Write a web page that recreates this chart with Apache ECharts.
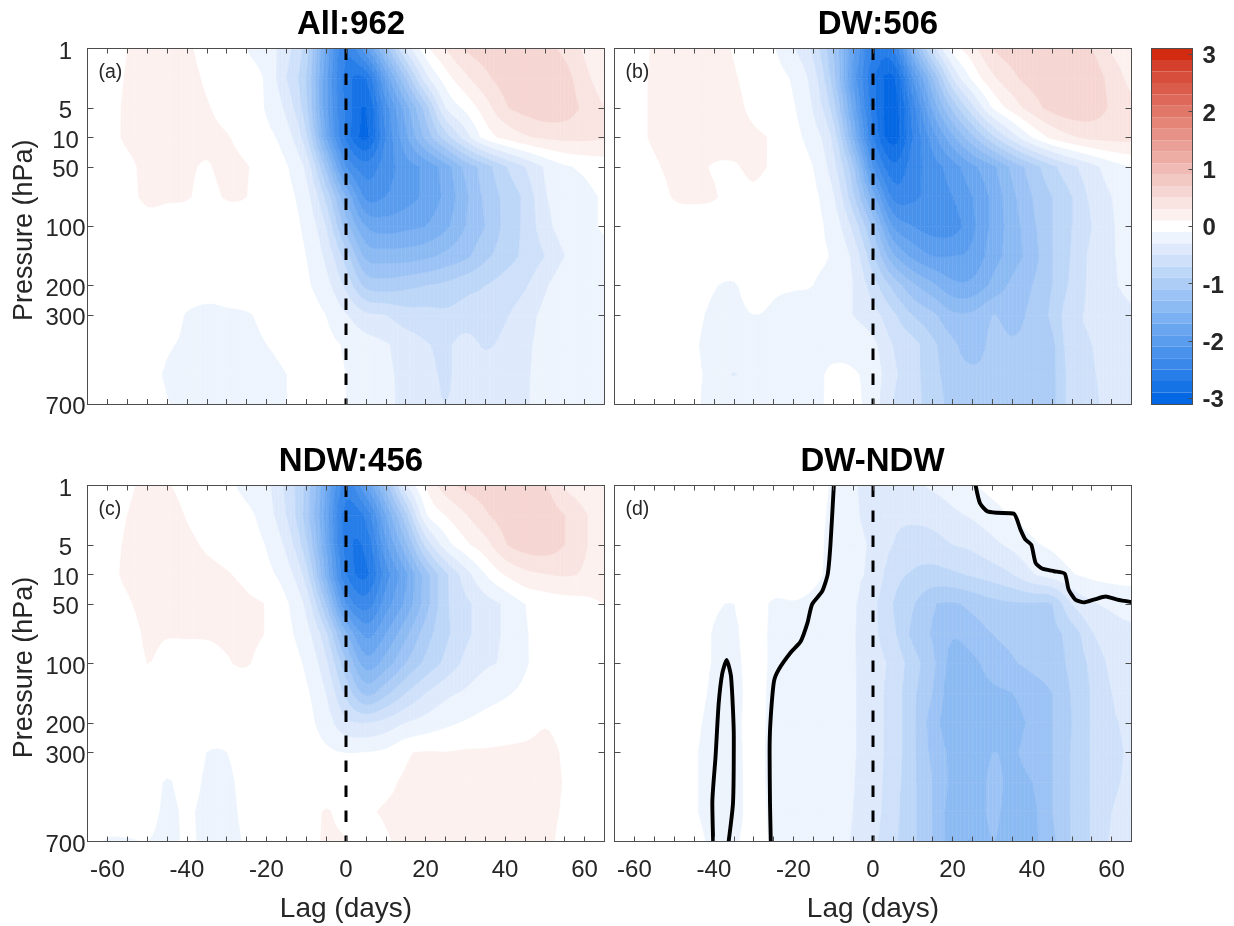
<!DOCTYPE html>
<html>
<head>
<meta charset="utf-8">
<style>html,body{margin:0;padding:0;background:#fff}#c{width:1234px;height:926px}</style>
<script src="https://cdn.jsdelivr.net/npm/echarts@6/dist/echarts.min.js"></script>
</head>
<body>
<div id="c"></div>
<script>
// Lag axis (days) and pressure levels (evenly spaced rows on the y axis)
const lags = [-65,-60,-55,-50,-45,-40,-35,-30,-25,-20,-15,-10,-5,0,5,10,15,20,25,30,35,40,45,50,55,60,65];
const levelLabels = {0:'1',2:'5',3:'10',4:'50',6:'100',8:'200',9:'300',12:'700'};
const levelTicks = [0,2,3,4,6,8,9,12];
const panelTitles = ['All:962','DW:506','NDW:456','DW-NDW'];
const panelTags = ['(a)','(b)','(c)','(d)'];
const colorbarTicks = [-3,-2,-1,0,1,2,3];

// Filled-contour edges and colours
const bandEdges = [0.1,0.3,0.5,0.7,0.9,1.1,1.3,1.5,1.7,1.9,2.1,2.3,2.5,2.7,2.9,3.1];
const negColors = ['#edf4fd','#deeafc','#cfe1fa','#bdd7f8','#adcdf6','#9cc3f5','#8cbaf3','#7bb0f2','#6aa6f0','#5a9cee','#4992ec','#3988ea','#287ee9','#1673e6','#0467e3'];
const posColors = ['#fcf1ef','#f9e4e1','#f6d6d2','#f3c9c3','#f0bbb4','#edada5','#eaa096','#e79287','#e48578','#e17769','#de695a','#db5c4b','#d84e3c','#d5402d','#d32a12'];

// Values per pressure level (rows) and lag (columns)
const allRows = [
[0,.05,.1,.15,.15,.12,.05,.02,-.1,-.2,-.42,-.8,-1.75,-2.45,-1.95,-1.2,-.45,.03,.3,.52,.6,.6,.6,.55,.45,.27,.2],
[0,.04,.11,.15,.15,.14,.08,.03,-.03,-.13,-.5,-.9,-1.85,-2.6,-2.7,-1.85,-1.1,-.38,0,.25,.45,.58,.62,.62,.58,.35,.22],
[0,.05,.12,.15,.15,.14,.11,.05,.02,-.12,-.35,-.85,-1.85,-2.55,-2.9,-2.2,-1.6,-1.0,-.3,-.05,.2,.47,.58,.65,.62,.45,.3],
[0,.05,.12,.14,.16,.15,.13,.11,.03,-.05,-.2,-.65,-1.7,-2.55,-2.95,-2.3,-1.75,-1.25,-.8,-.4,-.02,.15,.27,.33,.35,.35,.32],
[0,.03,.07,.13,.15,.12,.09,.14,.11,.01,-.08,-.35,-1.15,-2.1,-2.4,-2.2,-2.0,-1.85,-1.6,-1.25,-1.0,-.72,-.5,-.28,-.13,-.07,-.02],
[0,.01,.05,.13,.12,.11,.06,.11,.1,0,-.05,-.22,-.75,-1.5,-2.15,-2.1,-2.0,-1.85,-1.65,-1.35,-1.05,-.85,-.65,-.32,-.22,-.15,-.08],
[0,0,.02,.04,.03,.03,.03,.03,.02,0,-.03,-.15,-.5,-1.2,-1.7,-1.8,-1.75,-1.7,-1.55,-1.3,-1.1,-.85,-.65,-.38,-.2,-.13,-.09],
[0,0,0,.02,.02,.02,.02,.02,.01,0,-.02,-.1,-.35,-.8,-1.35,-1.4,-1.4,-1.35,-1.25,-1.15,-.95,-.8,-.65,-.5,-.3,-.16,-.12],
[0,0,0,0,0,-.02,-.05,-.04,-.02,-.01,-.02,-.07,-.23,-.55,-.95,-1.0,-.95,-.9,-.85,-.75,-.7,-.6,-.52,-.33,-.16,-.13,-.11],
[0,0,0,0,-.02,-.11,-.13,-.12,-.11,-.07,-.03,-.02,-.1,-.28,-.45,-.5,-.6,-.62,-.65,-.62,-.6,-.52,-.4,-.24,-.15,-.13,-.11],
[0,0,0,0,-.08,-.12,-.15,-.14,-.13,-.1,-.07,-.03,-.05,-.12,-.2,-.28,-.38,-.48,-.53,-.42,-.52,-.45,-.35,-.22,-.17,-.13,-.11],
[0,0,0,-.03,-.12,-.16,-.16,-.15,-.14,-.13,-.1,-.07,-.05,-.1,-.17,-.26,-.35,-.43,-.52,-.42,-.4,-.38,-.33,-.2,-.15,-.13,-.12],
[0,0,0,-.02,-.09,-.15,-.16,-.16,-.15,-.14,-.1,-.06,-.03,-.1,-.18,-.27,-.33,-.42,-.5,-.42,-.38,-.36,-.32,-.2,-.15,-.13,-.12]
];
const dwRows = [
[0,.05,.11,.14,.15,.14,.09,.03,-.08,-.28,-.55,-1.1,-1.85,-2.5,-2.5,-1.5,-.6,-.02,.22,.5,.6,.6,.6,.57,.5,.27,.2],
[0,.05,.12,.14,.15,.15,.11,.05,-.03,-.13,-.4,-1.0,-1.95,-2.65,-2.95,-2.1,-1.3,-.5,-.05,.25,.45,.58,.62,.62,.62,.42,.25],
[0,.05,.12,.14,.15,.15,.13,.07,.02,-.08,-.32,-.8,-1.75,-2.6,-3,-2.4,-1.65,-1.05,-.55,-.09,.18,.4,.57,.65,.62,.47,.35],
[0,.05,.12,.14,.15,.15,.14,.12,.08,-.04,-.2,-.55,-1.5,-2.5,-3,-2.5,-2,-1.55,-1.15,-.75,-.4,-.09,.14,.27,.35,.37,.37],
[0,.02,.08,.13,.13,.09,.09,.12,.08,0,-.1,-.42,-1.05,-2.1,-2.65,-2.4,-2.2,-2.0,-1.75,-1.55,-1.25,-1.0,-.75,-.55,-.37,-.2,-.1],
[0,0,.03,.11,.12,.11,.05,.08,.03,0,-.06,-.27,-.85,-1.6,-2.35,-2.35,-2.2,-2.1,-1.9,-1.65,-1.35,-1.1,-.9,-.7,-.45,-.3,-.15],
[0,0,0,.03,.04,.03,.02,.03,.01,0,-.05,-.18,-.55,-1.15,-1.9,-2.1,-2.2,-2.2,-1.95,-1.65,-1.4,-1.15,-.9,-.7,-.5,-.32,-.22],
[0,0,0,0,0,-.01,-.03,-.01,0,-.03,-.08,-.12,-.35,-.85,-1.45,-1.75,-1.9,-1.9,-1.85,-1.6,-1.4,-1.2,-.9,-.68,-.45,-.32,-.24],
[0,0,0,0,-.02,-.09,-.11,-.03,-.08,-.09,-.1,-.15,-.3,-.6,-.95,-1.25,-1.45,-1.65,-1.65,-1.45,-1.25,-1.1,-.9,-.65,-.45,-.33,-.25],
[0,0,0,-.02,-.06,-.13,-.14,-.1,-.12,-.14,-.14,-.18,-.3,-.42,-.65,-.9,-1.05,-1.25,-1.25,-1.1,-1.15,-1.05,-.85,-.55,-.48,-.4,-.33],
[0,0,0,0,-.08,-.15,-.17,-.16,-.16,-.15,-.15,-.15,-.17,-.25,-.5,-.62,-.85,-1.05,-1.2,-1.05,-1.08,-1.05,-.95,-.55,-.5,-.42,-.36],
[0,0,0,0,-.07,-.15,-.31,-.17,-.16,-.16,-.14,-.07,-.08,-.18,-.45,-.62,-.82,-1.0,-1.05,-1.05,-1.03,-1.05,-.95,-.6,-.52,-.42,-.37],
[0,0,0,0,-.07,-.15,-.16,-.16,-.15,-.13,-.13,-.07,-.05,-.2,-.5,-.62,-.8,-.95,-1.0,-1.0,-1.0,-1.0,-.95,-.6,-.55,-.42,-.38]
];
const ndwRows = [
[0,0,.07,.13,.11,.05,.02,-.05,-.16,-.25,-.55,-.95,-1.7,-2.4,-1.9,-1.2,-.35,.1,.4,.55,.6,.6,.58,.52,.27,.2,.17],
[0,.02,.1,.15,.16,.09,.04,0,-.05,-.2,-.5,-1.0,-1.8,-2.6,-2.45,-1.7,-.95,-.13,.1,.28,.47,.58,.62,.62,.5,.32,.22],
[0,.04,.12,.16,.16,.13,.08,.04,-.02,-.11,-.35,-.85,-1.7,-2.6,-2.65,-1.95,-1.35,-.65,-.2,.05,.22,.48,.6,.62,.5,.32,.22],
[0,.05,.13,.16,.16,.16,.14,.11,.06,-.05,-.2,-.6,-1.55,-2.5,-2.75,-2.2,-1.75,-1.2,-.75,-.4,-.1,.11,.24,.29,.32,.28,.22],
[0,.02,.08,.15,.16,.16,.15,.15,.13,.09,-.07,-.35,-1.1,-2.1,-2.4,-2.0,-1.65,-1.2,-.75,-.55,-.4,-.27,-.1,-.04,0,.03,.1],
[0,0,.03,.12,.11,.11,.11,.12,.13,.09,-.05,-.22,-.65,-1.45,-1.95,-1.7,-1.35,-1.0,-.75,-.55,-.4,-.27,-.12,-.02,0,0,0],
[0,0,.01,.1,.05,.05,.06,.09,.11,.03,-.03,-.13,-.45,-1.05,-1.6,-1.4,-1.1,-.85,-.65,-.45,-.33,-.27,-.12,-.03,0,0,0],
[0,0,0,.02,.01,.01,.01,.02,.02,0,-.01,-.07,-.3,-.75,-1.15,-.95,-.7,-.5,-.35,-.27,-.18,-.12,-.06,-.01,0,0,0],
[0,0,0,0,0,0,-.01,-.03,-.01,0,0,-.04,-.2,-.45,-.5,-.42,-.3,-.22,-.14,-.08,-.03,0,.03,.09,.05,0,0],
[0,0,0,0,-.03,0,-.1,-.1,-.02,0,0,-.01,-.06,-.1,-.09,-.05,.08,.11,.105,.12,.12,.13,.14,.14,.08,0,0],
[0,0,0,-.01,-.11,-.04,-.12,-.13,-.04,0,0,0,.02,0,0,.06,.12,.12,.12,.13,.13,.13,.14,.14,.09,0,0],
[0,-.02,-.02,-.03,-.13,-.08,-.14,-.15,-.05,0,0,.01,.11,.03,.07,.12,.13,.13,.13,.13,.13,.13,.14,.14,.08,0,0],
[-.05,-.11,-.11,-.1,-.14,-.08,-.13,-.15,-.08,-.02,0,.03,.12,.11,-.02,.08,.13,.13,.13,.13,.13,.13,.14,.14,.05,0,0]
];
const diffRows = [
[0,0,0,0,0,0,0,0,0,0,-.05,-.12,-.28,-.33,-.35,-.33,-.27,-.2,-.12,-.03,.02,.03,.03,.03,.03,.03,.03],
[0,0,0,0,0,0,0,0,0,0,-.06,-.13,-.27,-.35,-.45,-.45,-.42,-.34,-.27,-.18,-.08,-.02,.01,.02,.02,.02,.02],
[0,0,0,0,0,0,0,0,0,0,-.06,-.14,-.25,-.33,-.5,-.6,-.58,-.5,-.45,-.35,-.25,-.13,-.07,-.02,0,0,0],
[0,0,0,0,0,0,0,0,0,-.02,-.07,-.14,-.26,-.35,-.62,-.72,-.76,-.73,-.67,-.6,-.5,-.32,-.2,-.11,-.05,-.02,0],
[0,0,0,0,0,-.08,-.1,-.03,-.12,-.11,-.13,-.16,-.27,-.45,-.7,-.88,-1.08,-1.12,-1.05,-.97,-.93,-.92,-.9,-.5,-.33,-.27,-.25],
[0,0,0,0,-.01,-.11,-.12,-.03,-.13,-.14,-.15,-.17,-.28,-.45,-.65,-.95,-1.12,-1.28,-1.2,-1.1,-1.05,-1.0,-.95,-.82,-.52,-.38,-.33],
[0,0,0,0,-.02,-.11,-.14,-.03,-.13,-.15,-.16,-.17,-.28,-.42,-.55,-.8,-1.05,-1.38,-1.35,-1.2,-1.12,-1.05,-.98,-.85,-.65,-.45,-.33],
[0,0,0,0,-.03,-.13,-.15,-.04,-.14,-.16,-.17,-.18,-.28,-.42,-.58,-.85,-1.1,-1.42,-1.42,-1.35,-1.3,-1.2,-1.1,-.88,-.68,-.5,-.37],
[0,0,0,0,-.06,-.15,-.14,-.04,-.14,-.16,-.17,-.18,-.28,-.42,-.58,-.85,-1.2,-1.42,-1.4,-1.4,-1.38,-1.25,-1.1,-.9,-.68,-.53,-.47],
[0,0,0,0,-.08,-.17,-.15,-.04,-.15,-.16,-.17,-.19,-.28,-.42,-.58,-.85,-1.15,-1.35,-1.45,-1.3,-1.33,-1.2,-1.1,-.88,-.68,-.55,-.48],
[0,0,0,0,-.08,-.17,-.15,-.05,-.14,-.16,-.17,-.19,-.29,-.42,-.6,-.85,-1.1,-1.35,-1.45,-1.25,-1.35,-1.3,-1.1,-.88,-.68,-.55,-.45],
[0,0,0,0,-.08,-.17,-.15,-.05,-.13,-.16,-.17,-.2,-.3,-.42,-.62,-.85,-1.1,-1.4,-1.45,-1.25,-1.4,-1.35,-1.1,-.88,-.68,-.5,-.42],
[0,0,0,0,-.03,-.14,-.12,-.05,-.12,-.15,-.17,-.2,-.32,-.45,-.65,-.85,-1.1,-1.4,-1.5,-1.3,-1.4,-1.35,-1.15,-.88,-.68,-.47,-.38]
];
const panelRows = [allRows, dwRows, ndwRows, diffRows];

// Black zero-difference lines in panel (d): [lag, level row]
const diffLineLeft = [[-9.85,0],[-10.7,2],[-11.4,3],[-12.8,3.57],[-15.3,4],[-16.5,4.64],[-18.2,5.26],[-20.7,5.63],[-23.7,6.2],[-24.9,6.6],[-25.8,8],[-26,9],[-25.9,10.7],[-25.7,12]];
const diffLineLoop = [[-40.2,12],[-40.4,10.7],[-39.6,9.16],[-38.8,7.34],[-37.9,6.33],[-36.8,5.88],[-35.7,6.44],[-35,8.47],[-35.2,10.7],[-36.3,12]];
const diffLineRight = [[25.8,0],[26.9,.6],[28.7,.87],[31.2,.92],[35.4,.95],[37.1,1.49],[38.3,1.82],[39.8,2],[40.9,2.61],[42.5,2.8],[45.5,2.89],[48.2,2.97],[49.2,3.51],[50.9,3.85],[53,3.94],[55.5,3.85],[58.5,3.74],[61.4,3.85],[65,3.93]];
const zeroLagLine = [[0,0],[0,12]];

const FONT = '"Liberation Sans", Arial, sans-serif';
const TXT = '#262626';
const FRAME = '#4d4d4d';
const grids = [
  {left:87.5, top:48.5, width:517, height:355.5, outerBoundsMode:'none'},
  {left:614.5,top:48.5, width:517, height:355.5, outerBoundsMode:'none'},
  {left:87.5, top:485.5,width:517, height:356, outerBoundsMode:'none'},
  {left:614.5,top:485.5,width:517, height:356, outerBoundsMode:'none'},
  {left:1151.5,top:48.5,width:41,  height:355.5, outerBoundsMode:'none'}
];
const titleNudge = [0,0,0,-5.5];

// Band clipping of a grid cell against contour levels
function clipPoly(pts, level, keepAbove){
  const out=[];
  for(let i=0;i<pts.length;i++){
    const a=pts[i], b=pts[(i+1)%pts.length];
    const ina = keepAbove ? a[2]>=level : a[2]<=level;
    const inb = keepAbove ? b[2]>=level : b[2]<=level;
    if(ina) out.push(a);
    if(ina!==inb){
      const t=(level-a[2])/(b[2]-a[2]);
      out.push([a[0]+t*(b[0]-a[0]),a[1]+t*(b[1]-a[1]),level]);
    }
  }
  return out;
}
const SUB = 5; // drawing subdivisions of one cell along the lag direction (smooth contour edges)
function smoothAlongLag(row, c, t){
  const p0=row[Math.max(c-1,0)], p1=row[c], p2=row[c+1], p3=row[Math.min(c+2,row.length-1)];
  const v=0.5*((2*p1)+(-p0+p2)*t+(2*p0-5*p1+4*p2-p3)*t*t+(-p0+3*p1-3*p2+p3)*t*t*t);
  return Math.max(-3.09,Math.min(3.09,v));
}
function makeCellRender(rows){
  return function(params, api){
    const x0=api.value(0), y0=api.value(1), x1=api.value(2), y1=api.value(3);
    const c=lags.indexOf(x0);
    const children=[];
    for(let s=0;s<SUB;s++){
      const t0=s/SUB, t1=(s+1)/SUB;
      const xa=x0+(x1-x0)*t0, xb=x0+(x1-x0)*t1;
      const tl=api.coord([xa,y0]), tr=api.coord([xb,y0]), br=api.coord([xb,y1]), bl=api.coord([xa,y1]);
      const quad=[[tl[0],tl[1],smoothAlongLag(rows[y0],c,t0)],[tr[0],tr[1],smoothAlongLag(rows[y0],c,t1)],
                  [br[0],br[1],smoothAlongLag(rows[y1],c,t1)],[bl[0],bl[1],smoothAlongLag(rows[y1],c,t0)]];
      const zs=quad.map(q=>q[2]), zmin=Math.min.apply(null,zs), zmax=Math.max.apply(null,zs);
      if(zmin>-0.1 && zmax<0.1) continue;
      for(let k=0;k<bandEdges.length-1;k++){
        [[bandEdges[k],bandEdges[k+1],posColors[k]],[-bandEdges[k+1],-bandEdges[k],negColors[k]]].forEach(([lo,hi,col])=>{
          if(zmax<lo||zmin>hi) return;
          let p=clipPoly(quad,lo,true);
          if(p.length>2) p=clipPoly(p,hi,false);
          if(p.length>2) children.push({type:'polygon',silent:true,shape:{points:p.map(q=>[q[0],q[1]])},style:{fill:col,stroke:col,lineWidth:0.5}});
        });
      }
    }
    return {type:'group',children};
  };
}
function cellsFor(rows){
  const cells=[];
  for(let r=0;r<rows.length-1;r++) for(let c=0;c<lags.length-1;c++)
    cells.push([lags[c],r,lags[c+1],r+1]);
  return cells;
}

const xAxes=[], yAxes=[], series=[], titles=[], texts=[];
panelRows.forEach((rows,i)=>{
  const bottomRow = i>=2, leftCol = i%2===0;
  const xBase={gridIndex:i,type:'value',min:-65,max:65,interval:5,splitLine:{show:false},z:10,
    axisLine:{show:true,onZero:false,lineStyle:{color:FRAME,width:1}},
    axisTick:{show:true,inside:true,length:5,lineStyle:{color:FRAME,width:1}}};
  xAxes.push(Object.assign({},xBase,{position:'bottom',
    axisLabel:{show:bottomRow,margin:17,color:TXT,fontFamily:FONT,fontSize:24,showMinLabel:true,showMaxLabel:true,
      formatter:v=>(v%20===0?String(v):'')},
    name:bottomRow?'Lag (days)':'',nameLocation:'middle',nameGap:54,
    nameTextStyle:{color:TXT,fontFamily:FONT,fontSize:28}}));
  xAxes.push(Object.assign({},xBase,{position:'top',axisLabel:{show:false}}));
  const yBase={gridIndex:i,type:'value',inverse:true,min:0,max:12,interval:1,splitLine:{show:false},z:10,
    axisLine:{show:true,onZero:false,lineStyle:{color:FRAME,width:1}},
    axisTick:{show:true,inside:true,length:6,customValues:levelTicks,lineStyle:{color:FRAME,width:1}}};
  yAxes.push(Object.assign({},yBase,{position:'left',
    axisLabel:{show:leftCol,align:'center',margin:22,customValues:levelTicks,
      formatter:v=>levelLabels[v]?'{t|'+levelLabels[v]+'}':'',
      rich:{t:{color:TXT,fontFamily:FONT,fontSize:24,padding:[7,0,0,0]}}},
    name:leftCol?'Pressure (hPa)':'',nameLocation:'middle',nameGap:49,
    nameTextStyle:{color:TXT,fontFamily:FONT,fontSize:27,padding:[0,8,0,0]}}));
  yAxes.push(Object.assign({},yBase,{position:'right',axisLabel:{show:false}}));
  const xi=2*i, yi=2*i;
  series.push({type:'custom',xAxisIndex:xi,yAxisIndex:yi,renderItem:makeCellRender(rows),data:cellsFor(rows),
    encode:{x:0,y:1},z:2,silent:true,animation:false,clip:true,progressive:0});
  series.push({type:'line',xAxisIndex:xi,yAxisIndex:yi,data:zeroLagLine,showSymbol:false,z:5,silent:true,animation:false,
    lineStyle:{color:'#000',width:3,type:[11.5,13.5]}});
  if(i===3){
    [diffLineLeft,diffLineLoop,diffLineRight].forEach(d=>series.push({type:'line',xAxisIndex:xi,yAxisIndex:yi,data:d,
      showSymbol:false,smooth:0.2,z:6,silent:true,animation:false,lineStyle:{color:'#000',width:3.9}}));
  }
  const g=grids[i];
  titles.push({text:panelTitles[i],left:g.left+g.width/2+titleNudge[i],top:g.top-45,textAlign:'center',
    textStyle:{color:'#000',fontFamily:FONT,fontSize:33,fontWeight:'bold'}});
  texts.push({type:'text',left:g.left+11,top:g.top+14,z:20,style:{text:panelTags[i],fill:TXT,font:'19.5px '+FONT}});
});

// Colour bar
const cbBands=[];
for(let k=0;k<bandEdges.length-1;k++){
  cbBands.push([bandEdges[k],bandEdges[k+1],posColors[k]]);
  cbBands.push([-bandEdges[k+1],-bandEdges[k],negColors[k]]);
}
xAxes.push({gridIndex:4,type:'value',min:0,max:1,position:'bottom',z:10,splitLine:{show:false},axisTick:{show:false},axisLabel:{show:false},axisLine:{show:true,onZero:false,lineStyle:{color:FRAME}}});
xAxes.push({gridIndex:4,type:'value',min:0,max:1,position:'top',z:10,splitLine:{show:false},axisTick:{show:false},axisLabel:{show:false},axisLine:{show:true,onZero:false,lineStyle:{color:FRAME}}});
yAxes.push({gridIndex:4,type:'value',min:-3.1,max:3.1,position:'left',z:10,splitLine:{show:false},axisTick:{show:false},axisLabel:{show:false},axisLine:{show:true,onZero:false,lineStyle:{color:FRAME}}});
yAxes.push({gridIndex:4,type:'value',min:-3.1,max:3.1,position:'right',z:10,splitLine:{show:false},
  axisLine:{show:true,onZero:false,lineStyle:{color:FRAME}},
  axisTick:{show:true,inside:true,length:4,customValues:colorbarTicks,lineStyle:{color:FRAME}},
  axisLabel:{margin:10,customValues:colorbarTicks,formatter:v=>'{b|'+v+'}',
    rich:{b:{color:TXT,fontFamily:FONT,fontSize:24,fontWeight:'bold',padding:[5,0,0,0]}}}});
series.push({type:'custom',xAxisIndex:8,yAxisIndex:8,silent:true,animation:false,z:2,
  data:cbBands.map(b=>[0,b[0],1,b[1]]),encode:{x:0,y:1},
  renderItem:(params,api)=>{
    const a=api.coord([0,api.value(1)]), b=api.coord([1,api.value(3)]);
    const col=cbBands[params.dataIndex][2];
    return {type:'rect',silent:true,shape:{x:a[0],y:b[1],width:b[0]-a[0],height:a[1]-b[1]},style:{fill:col}};
  }});

const chart=echarts.init(document.getElementById('c'),null,{renderer:'canvas'});
chart.setOption({
  animation:false,backgroundColor:'#fff',
  title:titles,grid:grids,xAxis:xAxes,yAxis:yAxes,series,
  graphic:{elements:texts},tooltip:{show:false}
});
</script>
</body>
</html>
